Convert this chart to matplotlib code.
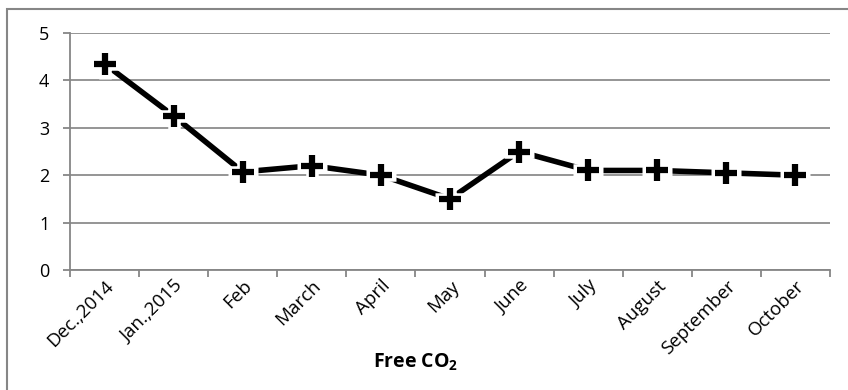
import matplotlib.pyplot as plt
from matplotlib.patches import Rectangle

# Monthly free CO2 readings
months = ['Dec.,2014', 'Jan.,2015', 'Feb', 'March', 'April', 'May',
          'June', 'July', 'August', 'September', 'October']
free_co2 = [4.35, 3.25, 2.07, 2.2, 2.0, 1.5, 2.5, 2.1, 2.1, 2.05, 2.0]

W, H = 848, 390
fig = plt.figure(figsize=(W / 100, H / 100), dpi=100)
plt.rcParams['font.family'] = ['Open Sans', 'DejaVu Sans']
plt.rcParams['mathtext.fontset'] = 'custom'
plt.rcParams['mathtext.bf'] = 'Open Sans:bold'

# chart frame, runs off the right and bottom edges
fig.patches.append(Rectangle((7 / W, -0.1), 1.2, 1 - 9 / H + 0.1,
                             transform=fig.transFigure, fill=False,
                             edgecolor='#868686', linewidth=1.5))

left, right, top, bottom = 70, 830, 33, 270
ax = fig.add_axes([left / W, 1 - bottom / H, (right - left) / W, (bottom - top) / H])

x = range(len(months))
ax.plot(x, free_co2, color='black', linewidth=4, zorder=3)
ax.plot(x, free_co2, linestyle='none', marker='+', markersize=21,
        markeredgewidth=9, color='white', zorder=4)
ax.plot(x, free_co2, linestyle='none', marker='+', markersize=16,
        markeredgewidth=4.5, color='black', zorder=5)

ax.set_xlim(-0.5, len(months) - 0.5)
ax.set_ylim(0, 5)
ax.set_yticks(range(6))
ax.yaxis.grid(True, color='#8c8c8c', linewidth=1.3)
ax.set_axisbelow(True)

ax.set_xticks(x)
ax.set_xticklabels(months, rotation=45, ha='right', rotation_mode='anchor',
                   fontsize=13.5)
ax.set_xticks([i - 0.5 for i in range(len(months) + 1)], minor=True)
ax.tick_params(axis='x', which='major', length=0, pad=5)
ax.tick_params(axis='x', which='minor', length=5, color='#868686', width=1.3)
ax.tick_params(axis='y', length=5, color='#868686', width=1.3, labelsize=13, pad=10)

for s in ['top', 'right']:
    ax.spines[s].set_visible(False)
for s in ['left', 'bottom']:
    ax.spines[s].set_color('#868686')
    ax.spines[s].set_linewidth(1.3)

fig.text(416 / W, 1 - 362 / H, r'Free CO$_\mathbf{2}$', ha='center', va='center',
         fontsize=14, fontweight='bold')

fig.savefig('out.png', dpi=100)
